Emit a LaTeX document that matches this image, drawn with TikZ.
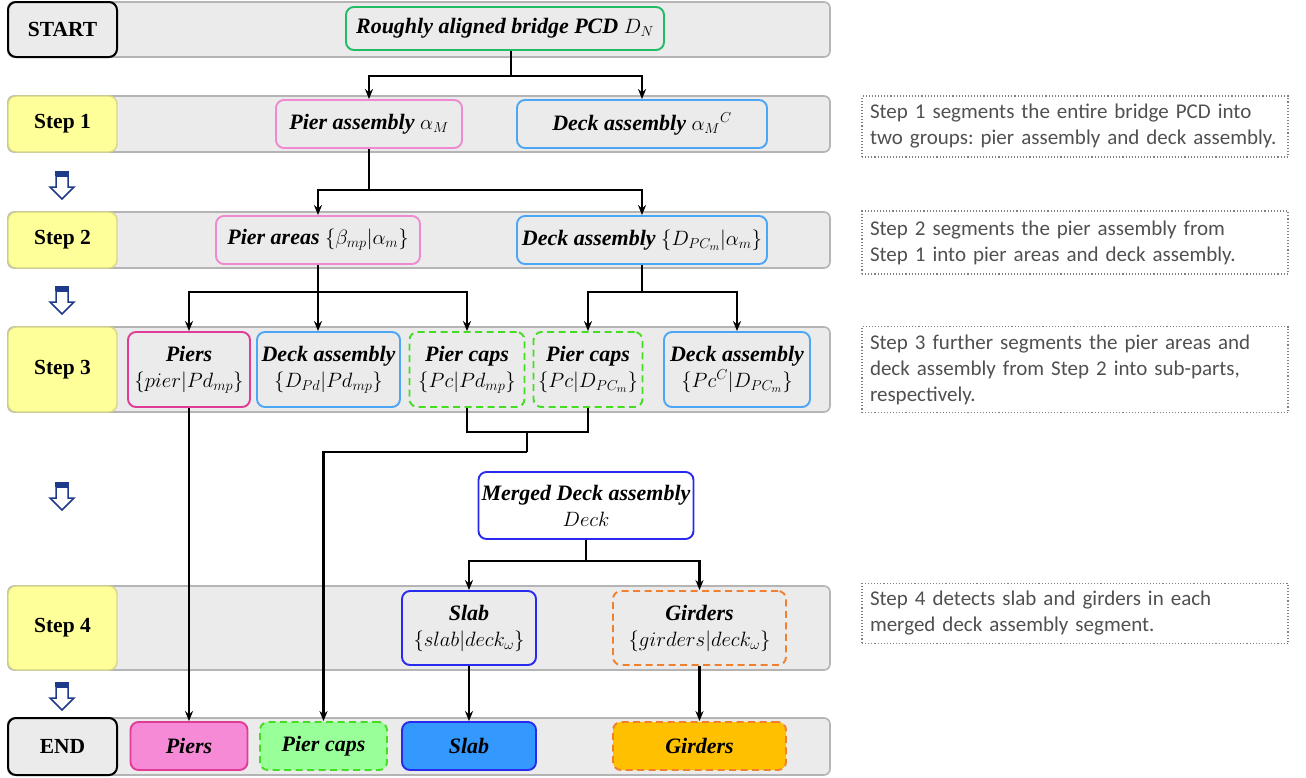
\documentclass[tikz,border=0pt]{standalone}
\usepackage{fontspec}
\setmainfont{Liberation Serif}
\newfontfamily\notefont{Carlito}
\usetikzlibrary{arrows.meta}
\definecolor{bandfill}{HTML}{EBEBEB}
\definecolor{bandline}{HTML}{B4B4B4}
\definecolor{stepfill}{HTML}{FFFF99}
\definecolor{stepline}{HTML}{D6D68A}
\definecolor{dngreen}{HTML}{22BB66}
\definecolor{pinkl}{HTML}{F08AD0}
\definecolor{bluel}{HTML}{4DA6F5}
\definecolor{magl}{HTML}{E03C96}
\definecolor{greenl}{HTML}{44DD22}
\definecolor{deepblue}{HTML}{2A2AEE}
\definecolor{orangel}{HTML}{F08030}
\definecolor{pinkf}{HTML}{F78AD6}
\definecolor{greenf}{HTML}{99FF99}
\definecolor{bluef}{HTML}{3399FF}
\definecolor{orangef}{HTML}{FFC000}
\definecolor{navy}{HTML}{1F3A8A}
\definecolor{notetext}{HTML}{505050}
\frenchspacing
\tikzset{
  band/.style={draw=bandline, fill=bandfill, line width=1.6pt, rounded corners=6pt},
  lbl/.style={draw=black, fill=bandfill, line width=2pt, rounded corners=8pt, minimum width=109pt,
    font=\bfseries\fontsize{21.5}{24}\selectfont},
  steplbl/.style={lbl, draw=stepline, fill=stepfill, line width=1.4pt},
  box/.style={draw, fill=bandfill, rounded corners=8pt, line width=1.9pt, align=center, inner sep=2pt,
    font=\bfseries\itshape\fontsize{22}{26}\selectfont},
  dbox/.style={box, dashed, dash pattern=on 7pt off 4.5pt},
  note/.style={draw=gray, dotted, line width=1.1pt, text width=410pt, align=left, inner sep=8pt,
    text=notetext, font=\notefont\fontsize{21}{26}\selectfont},
  line/.style={draw=black, line width=2.2pt},
  conn/.style={line, -{Stealth[length=10pt,width=8pt]}},
  downarr/.style={draw=navy, line width=1.5pt, fill=white}
}
\newcommand{\downarrowicon}[2]{%
  \fill[navy] (#1-7,#2) rectangle (#1+7,#2+5);
  \draw[downarr] (#1-6,#2+5) -- (#1+6,#2+5) -- (#1+6,#2+16) -- (#1+12,#2+16) -- (#1,#2+28)
     -- (#1-12,#2+16) -- (#1-6,#2+16) -- cycle;}
\begin{document}
\begin{tikzpicture}[x=1pt,y=-1pt]
\useasboundingbox (0,0) rectangle (1306,777);
% bands
\draw[band] (8,2) rectangle (830,57);
\draw[band] (8,96) rectangle (830,152);
\draw[band] (8,212) rectangle (830,268);
\draw[band] (8,327) rectangle (830,412);
\draw[band] (8,586) rectangle (830,670);
\draw[band] (8,718) rectangle (830,775);
% labels
\node[lbl, minimum height=55pt] (lstart) at (62.5,29.5) {START};
\node[steplbl, minimum height=56pt] (l1) at (62.5,124) {Step 1};
\node[steplbl, minimum height=56pt] (l2) at (62.5,240) {Step 2};
\node[steplbl, minimum height=85pt] (l3) at (62.5,369.5) {Step 3};
\node[steplbl, minimum height=84pt] (l4) at (62.5,628) {Step 4};
\node[lbl, minimum height=57pt] (lend) at (62.5,746.5) {END};
% down arrows
\downarrowicon{62}{171}
\downarrowicon{62}{286}
\downarrowicon{62}{482}
\downarrowicon{62}{682}
% nodes
\node[box, draw=dngreen, minimum width=318pt, minimum height=43pt] (dn) at (505,28.5) {Roughly aligned bridge PCD $D_N$};
\node[box, draw=pinkl, minimum width=186pt, minimum height=48pt] (pa) at (369,124) {Pier assembly $\alpha_M$};
\node[box, draw=bluel, minimum width=250pt, minimum height=48pt] (da) at (642,124) {Deck assembly $\alpha_M{}^{C}$};
\node[box, draw=pinkl, minimum width=204pt, minimum height=48pt] (par) at (318,240) {Pier areas $\{\beta_{mp}|\alpha_m\}$};
\node[box, draw=bluel, minimum width=250pt, minimum height=48pt] (da2) at (642,240) {Deck assembly $\{D_{PC_m}|\alpha_m\}$};
\node[box, draw=magl, minimum width=122pt, minimum height=75pt] (piers) at (189,369.5) {Piers\\$\{pier|Pd_{mp}\}$};
\node[box, draw=bluel, minimum width=143pt, minimum height=75pt] (da3a) at (328.5,369.5) {Deck assembly\\$\{D_{Pd}|Pd_{mp}\}$};
\node[dbox, draw=greenl, minimum width=115pt, minimum height=75pt] (pc1) at (467,369.5) {Pier caps\\$\{Pc|Pd_{mp}\}$};
\node[dbox, draw=greenl, minimum width=109pt, minimum height=75pt] (pc2) at (588,369.5) {Pier caps\\$\{Pc|D_{PC_m}\}$};
\node[box, draw=bluel, minimum width=146pt, minimum height=75pt] (da3b) at (737,369.5) {Deck assembly\\$\{Pc^C|D_{PC_m}\}$};
\node[box, draw=deepblue, fill=white, minimum width=215pt, minimum height=67pt] (merged) at (586,505.5) {Merged Deck assembly\\$Deck$};
\node[box, draw=deepblue, minimum width=134pt, minimum height=74pt] (slab) at (469,628) {Slab\\$\{slab|deck_\omega\}$};
\node[dbox, draw=orangel, minimum width=173pt, minimum height=74pt] (gird) at (699.5,628) {Girders\\$\{girders|deck_\omega\}$};
% end nodes
\node[box, draw=magl, fill=pinkf, minimum width=117pt, minimum height=48pt] (epiers) at (189,746) {Piers};
\node[dbox, draw=greenl, fill=greenf, minimum width=127pt, minimum height=48pt] (epc) at (323.5,746) {Pier caps};
\node[box, draw=deepblue, fill=bluef, minimum width=134pt, minimum height=48pt] (eslab) at (469,746) {Slab};
\node[dbox, draw=orangel, fill=orangef, minimum width=173pt, minimum height=48pt] (egird) at (699.5,746) {Girders};
% notes
\node[note, minimum height=61pt] (n1) at (1075,126.5) {Step 1 segments the entire bridge PCD into\\two groups: pier assembly and deck assembly.};
\node[note, minimum height=63pt] (n2) at (1075,242.5) {Step 2 segments the pier assembly from\\Step 1 into pier areas and deck assembly.};
\node[note, minimum height=85pt] (n3) at (1075,369.5) {Step 3 further segments the pier areas and\\deck assembly from Step 2 into sub-parts,\\respectively.};
\node[note, minimum height=53pt] (n4) at (1075,613.5) {Step 4 detects slab and girders in each\\merged deck assembly segment.};
% connectors
\coordinate (j0) at (511,76);
\draw[line] (dn.south -| j0) -- (j0);
\draw[conn] (j0) -| (pa.north);
\draw[conn] (j0) -| (da.north);
\coordinate (j1) at (369,190);
\draw[line] (pa.south) -- (j1);
\draw[conn] (j1) -| (par.north);
\draw[conn] (j1) -| (da2.north);
\coordinate (j2) at (318,292);
\draw[line] (par.south) -- (j2);
\draw[conn] (j2) -| (piers.north);
\draw[conn] (par.south) -- (par.south |- da3a.north);
\draw[conn] (j2) -| (pc1.north);
\coordinate (j3) at (642,292);
\draw[line] (da2.south) -- (j3);
\draw[conn] (j3) -| (pc2.north);
\draw[conn] (j3) -| (da3b.north);
\draw[conn] (piers.south) -- (epiers.north);
\coordinate (j4) at (527,432);
\coordinate (j5) at (527,452);
\draw[line] (pc1.south) |- (j4) -| (pc2.south);
\draw[line] (j4) -- (j5);
\draw[conn] (j5) -| (epc.north);
\coordinate (j6) at (586,561);
\draw[line] (merged.south) -- (j6);
\draw[conn] (j6) -| (slab.north);
\draw[conn] (j6) -| (gird.north);
\draw[conn] (slab.south) -- (eslab.north);
\draw[conn] (gird.south) -- (egird.north);
\end{tikzpicture}
\end{document}
